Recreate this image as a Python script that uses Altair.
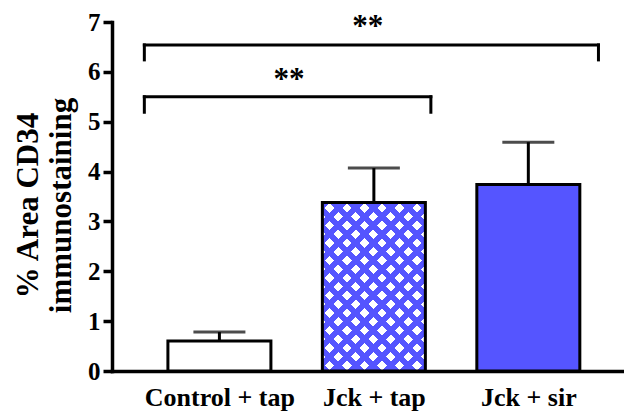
import math
import altair as alt
import pandas as pd

# ---- data ----
categories = ["Control + tap", "Jck + tap", "Jck + sir"]
means = [0.60, 3.38, 3.74]
sems = [0.18, 0.69, 0.85]

y_ticks = [0, 1, 2, 3, 4, 5, 6, 7]

# significance brackets (x in category-index units, y in data units)
sig_labels = ["**", "**"]
bracket_x1 = [-0.486, -0.486]
bracket_x2 = [1.369, 2.454]
bracket_y = [5.50, 6.54]
bracket_drop = [5.19, 6.24]
star_x = [0.45, 0.96]
star_y = [5.66, 6.71]

# ---- styling ----
BLUE = "#5555FF"
FONT = "Liberation Serif"
W, H = 512, 349
Y_MAX = 7
X_DOM = [-0.663, 2.587]
BAR_PX = 103

df = pd.DataFrame({
    "cat": categories,
    "idx": list(range(len(categories))),
    "mean": means,
    "sem": sems,
})
df["upper"] = df["mean"] + df["sem"]

xs = alt.Scale(domain=X_DOM, nice=False, zero=False)
ys = alt.Scale(domain=[0, Y_MAX], nice=False)

label_expr = "[" + ",".join('"%s"' % c for c in categories) + "][datum.value]"

x_enc = alt.X("idx:Q", scale=xs, title="",
              axis=alt.Axis(values=list(range(len(categories))), labelExpr=label_expr,
                            ticks=False, grid=False, labelFlush=False, labelOverlap=False,
                            labelFont=FONT, labelFontSize=26, labelFontWeight="bold",
                            labelColor="black", labelPadding=13,
                            domainColor="black", domainWidth=3.5, domainCap="square"))
y_enc = alt.Y("mean:Q", scale=ys,
              title=["% Area CD34", "immunostaining"],
              axis=alt.Axis(values=y_ticks, grid=False,
                            labelFont=FONT, labelFontSize=25, labelFontWeight="bold",
                            labelColor="black", labelPadding=3,
                            tickSize=9, tickWidth=3.5, tickColor="black",
                            domainColor="black", domainWidth=3.5, domainCap="square",
                            titleFont=FONT, titleFontSize=31, titleFontWeight="bold",
                            titleColor="black", titleLineHeight=33, titlePadding=10,
                            titleY=183))

base = alt.Chart(df)

# plain fills
fill_layer = base.mark_bar(size=BAR_PX).encode(
    x=x_enc, y=y_enc,
    fill=alt.Fill("cat:N", scale=alt.Scale(domain=categories,
                                           range=["#FFFFFF", "#FFFFFF", BLUE]),
                  legend=None),
)

# cross-hatch for the "Jck + tap" bar built from two diagonal stripe gradients
h_px = means[1] / Y_MAX * H
w_px = BAR_PX
k = (w_px + h_px) / (w_px ** 2 + h_px ** 2)
a, b = k * w_px, k * h_px
period = 17.5
blue_frac = 0.45
n_per = (w_px + h_px) / period
clear = "rgba(85,85,255,0)"
stops = []
i = 0
while True:
    t0 = i / n_per
    if t0 >= 1:
        break
    t1 = min((i + blue_frac) / n_per, 1)
    t2 = min((i + 1) / n_per, 1)
    stops += [{"offset": t0, "color": BLUE}, {"offset": t1, "color": BLUE},
              {"offset": t1, "color": clear}, {"offset": t2, "color": clear}]
    i += 1

grad_a = {"gradient": "linear", "x1": 0, "y1": 0, "x2": a, "y2": b, "stops": stops}
grad_b = {"gradient": "linear", "x1": 0, "y1": 1, "x2": a, "y2": 1 - b, "stops": stops}

hatch = base.transform_filter(alt.datum.idx == 1)
hatch_a = hatch.mark_bar(size=BAR_PX, fill=grad_a).encode(x=x_enc, y=y_enc)
hatch_b = hatch.mark_bar(size=BAR_PX, fill=grad_b).encode(x=x_enc, y=y_enc)

# error bars (upper only)
err_rule = base.mark_rule(color="black", strokeWidth=3).encode(
    x=x_enc, y=y_enc, y2="upper:Q")
err_cap = base.mark_tick(orient="horizontal", size=52, thickness=3, color="black").encode(
    x=x_enc, y=alt.Y("upper:Q", scale=ys))

outline = base.mark_bar(size=BAR_PX, fill="transparent", stroke="black",
                        strokeWidth=3, strokeJoin="miter").encode(x=x_enc, y=y_enc)

# significance brackets
br = pd.DataFrame({"x1": bracket_x1, "x2": bracket_x2, "y": bracket_y,
                   "yd": bracket_drop, "lab": sig_labels, "sx": star_x, "sy": star_y})
br_h = alt.Chart(br).mark_rule(color="black", strokeWidth=3, strokeCap="square").encode(
    x=alt.X("x1:Q", scale=xs), x2="x2:Q", y=alt.Y("y:Q", scale=ys))
br_l = alt.Chart(br).mark_rule(color="black", strokeWidth=3, strokeCap="square").encode(
    x=alt.X("x1:Q", scale=xs), y=alt.Y("y:Q", scale=ys), y2="yd:Q")
br_r = alt.Chart(br).mark_rule(color="black", strokeWidth=3, strokeCap="square").encode(
    x=alt.X("x2:Q", scale=xs), y=alt.Y("y:Q", scale=ys), y2="yd:Q")
stars = alt.Chart(br).mark_text(font=FONT, fontSize=31, fontWeight="bold",
                                baseline="alphabetic", align="center", color="black").encode(
    x=alt.X("sx:Q", scale=xs), y=alt.Y("sy:Q", scale=ys), text="lab:N")

chart = alt.layer(
    fill_layer, hatch_a, hatch_b, err_rule, err_cap, outline,
    br_h, br_l, br_r, stars,
).properties(
    width=W, height=H,
    autosize=alt.AutoSizeParams(type="none"),
    padding={"left": 104, "top": 14, "right": 0, "bottom": 44},
    background="white",
).configure_view(strokeWidth=0)

chart.save("out.html", embed_options={"renderer": "svg", "actions": False})
